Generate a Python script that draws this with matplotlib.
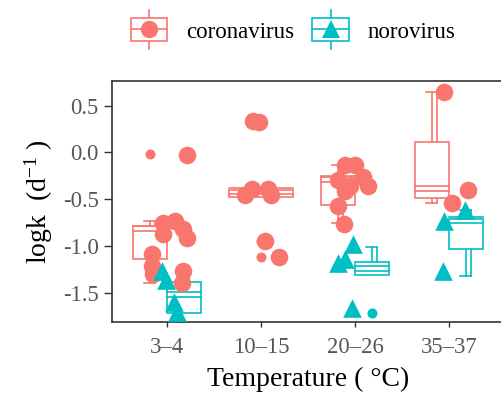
import matplotlib
matplotlib.use("Agg")
import matplotlib.pyplot as plt
from matplotlib.patches import Rectangle
from matplotlib.lines import Line2D
from matplotlib.legend_handler import HandlerBase

plt.rcParams['font.family'] = ['Liberation Serif', 'DejaVu Serif']
plt.rcParams['mathtext.fontset'] = 'custom'
plt.rcParams['mathtext.rm'] = 'Liberation Serif'
plt.rcParams['mathtext.it'] = 'Liberation Serif:italic'

# ---------------- data ----------------
categories = ["3\u20134", "10\u201315", "20\u201326", "35\u201337"]
series = ["coronavirus", "norovirus"]
colors = {"coronavirus": "#F8766D", "norovirus": "#00BFC4"}
markers = {"coronavirus": "o", "norovirus": "^"}

# jittered observations: category index, value and jitter offset
cov_cat = [0]*11 + [1]*8 + [2]*9 + [3]*3
cov_val = [-0.025, -0.75, -0.73, -0.82, -0.91, -0.87, -1.09, -1.21, -1.27, -1.39, -1.30,
           0.34, 0.33, -0.45, -0.39, -0.39, -0.45, -0.95, -1.12,
           -0.13, -0.13, -0.26, -0.36, -0.29, -0.36, -0.41, -0.57, -0.77,
           0.64, -0.40, -0.54]
cov_jit = [0.21, -0.04, 0.085, 0.17, 0.21, -0.04, -0.16, -0.16, 0.17, 0.16, -0.15,
           -0.085, -0.02, -0.17, -0.10, 0.075, 0.11, 0.04, 0.19,
           -0.11, 0.0, 0.085, 0.14, -0.18, -0.05, -0.11, -0.18, -0.12,
           -0.05, 0.205, 0.03]

nor_cat = [0]*4 + [2]*4 + [3]*3
nor_val = [-1.27, -1.36, -1.60, -1.70,
           -0.98, -1.18, -1.14, -1.66,
           -0.73, -0.61, -1.27]
nor_jit = [-0.05, -0.01, 0.075, 0.105,
           -0.02, -0.18, -0.11, -0.035,
           -0.05, 0.17, -0.06]

# box statistics per series: category index, whisker low, q1, median, q3, whisker high
cov_box_cat = [0, 1, 2, 3]
cov_wlo = [-1.40, -0.48, -0.75, -0.54]
cov_q1 = [-1.14, -0.48, -0.56, -0.49]
cov_med = [-0.84, -0.44, -0.32, -0.415]
cov_q3 = [-0.79, -0.405, -0.255, 0.106]
cov_whi = [-0.73, -0.405, -0.13, 0.64]
cov_out_cat = [0, 1, 1, 1]
cov_out_val = [-0.02, 0.33, -0.95, -1.12]

nor_box_cat = [0, 2, 3]
nor_wlo = [-1.72, -1.31, -1.32]
nor_q1 = [-1.72, -1.31, -1.03]
nor_med = [-1.55, -1.27, -0.75]
nor_q3 = [-1.38, -1.17, -0.71]
nor_whi = [-1.32, -1.01, -0.61]
nor_out_cat = [2]
nor_out_val = [-1.72]

yticks = [0.5, 0.0, -0.5, -1.0, -1.5]

# ---------------- figure ----------------
W, H = 502, 399
fig = plt.figure(figsize=(W/100, H/100), dpi=100)
ax = fig.add_axes([112/W, 1-322.3/H, (504-112)/W, (322.3-80.7)/H])

dodge = {"coronavirus": -0.18, "norovirus": 0.18}
bw = 0.36
lw = 1.2

present = {0: ["coronavirus", "norovirus"], 1: ["coronavirus"],
           2: ["coronavirus", "norovirus"], 3: ["coronavirus", "norovirus"]}

def center(series_name, cat):
    if len(present[cat]) == 1:
        return cat, 0.68
    return cat + dodge[series_name], bw

def draw_boxes(name, cats, wlo, q1, med, q3, whi, ocat, oval):
    col = colors[name]
    for c, lo, a, m, b, hi in zip(cats, wlo, q1, med, q3, whi):
        cx, w = center(name, c)
        # whiskers (double line) and caps
        for dx in (0.0, 0.055):
            ax.plot([cx+dx, cx+dx], [b, hi], color=col, lw=lw, zorder=2)
            ax.plot([cx+dx, cx+dx], [lo, a], color=col, lw=lw, zorder=2)
        if hi > b + 1e-6:
            ax.plot([cx-0.065, cx+0.055], [hi, hi], color=col, lw=lw, zorder=2)
        if lo < a - 1e-6:
            ax.plot([cx-0.065, cx+0.055], [lo, lo], color=col, lw=lw, zorder=2)
        ax.add_patch(Rectangle((cx-w/2, a), w, b-a, fill=True, fc="white",
                               ec=col, lw=lw, zorder=2))
        ax.plot([cx-w/2, cx+w/2], [m, m], color=col, lw=lw, zorder=2)
        ax.plot([cx-w/2, cx+w/2], [m+0.055, m+0.055], color=col, lw=lw, zorder=2)
    for c, v in zip(ocat, oval):
        cx, w = center(name, c)
        ax.scatter([cx], [v], s=52, color=col, marker="o", linewidths=0, zorder=3)

draw_boxes("coronavirus", cov_box_cat, cov_wlo, cov_q1, cov_med, cov_q3, cov_whi,
           cov_out_cat, cov_out_val)
draw_boxes("norovirus", nor_box_cat, nor_wlo, nor_q1, nor_med, nor_q3, nor_whi,
           nor_out_cat, nor_out_val)

ax.scatter([c + j for c, j in zip(cov_cat, cov_jit)], cov_val, s=160,
           color=colors["coronavirus"], marker="o", linewidths=0, zorder=4)
ax.scatter([c + j for c, j in zip(nor_cat, nor_jit)], nor_val, s=180,
           color=colors["norovirus"], marker="^", linewidths=0, zorder=4)

ax.set_xlim(-0.585, 3.585)
ax.set_ylim(-1.815, 0.766)
ax.set_xticks(range(len(categories)))
ax.set_xticklabels(categories)
ax.set_yticks(yticks)
ax.set_yticklabels([f"{t:.1f}" for t in yticks])
ax.tick_params(axis="both", labelsize=16.3, colors="#333333", labelcolor="#555555",
               width=1.0)
ax.tick_params(axis="y", length=6.0, pad=3.5)
ax.tick_params(axis="x", length=3.6, pad=7.0)
for s in ax.spines.values():
    s.set_color("#333333")
    s.set_linewidth(1.2)

ax.set_xlabel("Temperature ( \u00b0C)", fontsize=20, color="black", labelpad=6)
ax.set_ylabel(r"logk  (d$^{\mathrm{-1}}$ )", fontsize=20, color="black", labelpad=6)

# ---------------- legend ----------------
class BoxKey(HandlerBase):
    def create_artists(self, legend, orig_handle, xdescent, ydescent, width, height,
                       fontsize, trans):
        col = orig_handle.get_color()
        mk = orig_handle.get_marker()
        cx = width/2 - xdescent
        cy = height/2 - ydescent
        bh = 16.5
        arts = []
        arts.append(Line2D([cx, cx], [cy-14.0, cy+14.0], color=col, lw=lw, transform=trans))
        arts.append(Rectangle((cx-width/2, cy-bh/2), width, bh, fc="white", ec=col,
                              lw=lw, transform=trans))
        arts.append(Line2D([cx-width/2, cx+width/2], [cy, cy], color=col, lw=lw,
                           transform=trans))
        arts.append(Line2D([cx], [cy], marker=mk, markersize=12.5 if mk == "o" else 13.2,
                           color=col, markeredgewidth=0, linestyle="none", transform=trans))
        return arts

h_cov = Line2D([], [], color=colors["coronavirus"], marker="o")
h_nor = Line2D([], [], color=colors["norovirus"], marker="^")
fig.legend([h_cov, h_nor], series, loc="center", bbox_to_anchor=(293/W, 1-32/H),
           ncol=2, frameon=False, fontsize=16.5, handlelength=1.6, handletextpad=0.8,
           columnspacing=0.8, handler_map={h_cov: BoxKey(), h_nor: BoxKey()})

fig.savefig("out.png", dpi=100)
